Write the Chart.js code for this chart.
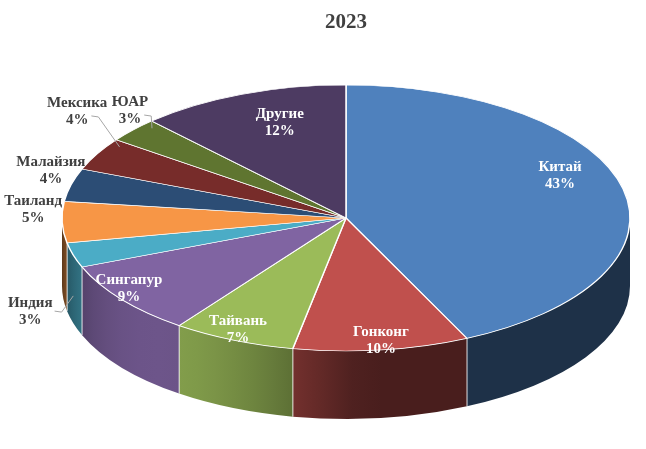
<!DOCTYPE html>
<html>
<head>
<meta charset="utf-8">
<script src="https://cdn.jsdelivr.net/npm/chart.js@4.4.1/dist/chart.umd.min.js"></script>
<style>
  html, body { margin: 0; padding: 0; background: #fff; }
  #wrap { width: 646px; height: 449px; }
</style>
</head>
<body>
<div id="wrap"><canvas id="pie" width="646" height="449"></canvas></div>
<script>
var labels = ["Китай", "Гонконг", "Тайвань", "Сингапур", "Индия", "Таиланд", "Малайзия", "Мексика", "ЮАР", "Другие"];
var shares = [43, 10, 7, 9, 3, 5, 4, 4, 3, 12];
var colors = ["#4F81BD", "#C0504D", "#9BBB59", "#8064A2", "#4BACC6", "#F79646", "#2C4D75", "#772C2A", "#5F7530", "#4D3B62"];
var titleText = "2023";

// the tilted look: centre of the ellipse, its half height, thickness of the pie
var CY = 218, RY = 133, DEPTH = 68;

// where each label sits: radius factor along the slice middle, then a nudge in px
// la = how far along the slice the leader line points
var labelSpots = [
    { f: 0.7, dx: 20, dy: -22 },
    { f: 0.7, dx: 10, dy: 30 },
    { f: 0.7, dx: -29, dy: 26 },
    { f: 0.7, dx: -60, dy: 14 },
    { f: 1, dx: -43, dy: 57, out: true, lead: "side" },
    { f: 1, dx: -29, dy: -13, out: true },
    { f: 1, dx: -20, dy: -14, out: true },
    { f: 1, dx: -20, dy: -42, out: true, lead: "top", la: 0.85 },
    { f: 1, dx: -3, dy: -19, out: true, lead: "top", la: 0.8 },
    { f: 0.7, dx: 7, dy: -9 }
];

function rgb(hex) {
    return [parseInt(hex.substr(1, 2), 16), parseInt(hex.substr(3, 2), 16), parseInt(hex.substr(5, 2), 16)];
}

// light on the rim is brightest a bit left of the front
function shade(a) {
    return 0.38 + 0.47 * Math.max(0, Math.cos(2 * (a - 2.3)));
}

var pie3d = {
    id: "pie3d",
    beforeDatasetsDraw: function(chart) {
        var ctx = chart.ctx;
        var meta = chart.getDatasetMeta(0);
        var first = meta.data[0];
        var ox = first.x, oy = first.y, R = first.outerRadius;
        var k = RY / R;
        var d = DEPTH / k;

        ctx.save();
        ctx.translate(ox, CY);
        ctx.scale(1, k);
        ctx.translate(-ox, -oy);

        meta.data.forEach(function(arc, i) {
            var s = Math.max(arc.startAngle, 0);
            var e = Math.min(arc.endAngle, Math.PI);
            if (e <= s) return;

            var x1 = ox + R * Math.cos(s), x2 = ox + R * Math.cos(e);
            var base = rgb(colors[i]);
            var grad = ctx.createLinearGradient(x1, 0, x2, 0);
            for (var j = 0; j <= 6; j++) {
                var a = s + (e - s) * j / 6;
                var t = (x1 === x2) ? j / 6 : (ox + R * Math.cos(a) - x1) / (x2 - x1);
                var m = shade(a);
                grad.addColorStop(Math.min(1, Math.max(0, t)),
                    "rgb(" + Math.round(base[0] * m) + "," + Math.round(base[1] * m) + "," + Math.round(base[2] * m) + ")");
            }

            ctx.beginPath();
            ctx.arc(ox, oy, R, s, e);
            ctx.lineTo(ox + R * Math.cos(e), oy + d + R * Math.sin(e));
            ctx.arc(ox, oy + d, R, e, s, true);
            ctx.closePath();
            ctx.fillStyle = grad;
            ctx.fill();

            ctx.strokeStyle = "rgba(255,255,255,0.85)";
            ctx.lineWidth = 1;
            [s, e].forEach(function(a) {
                if (a === 0 || a === Math.PI) return;
                ctx.beginPath();
                ctx.moveTo(ox + R * Math.cos(a), oy + R * Math.sin(a));
                ctx.lineTo(ox + R * Math.cos(a), oy + d + R * Math.sin(a));
                ctx.stroke();
            });
        });
    },
    afterDatasetsDraw: function(chart) {
        var ctx = chart.ctx;
        ctx.restore();

        var meta = chart.getDatasetMeta(0);
        var ox = meta.data[0].x;
        var R = meta.data[0].outerRadius;

        ctx.save();
        ctx.font = "bold 15px 'Liberation Serif'";
        ctx.textAlign = "center";
        ctx.textBaseline = "middle";
        meta.data.forEach(function(arc, i) {
            var spot = labelSpots[i];
            var mid = (arc.startAngle + arc.endAngle) / 2;
            var ax = ox + spot.f * R * Math.cos(mid);
            var ay = CY + spot.f * RY * Math.sin(mid);
            var lx = ax + spot.dx, ly = ay + spot.dy;
            var pct = shares[i] + "%";

            if (spot.lead) {
                var tx, ty, sx, sy;
                if (spot.lead === "side") {
                    tx = ax;
                    ty = ay + DEPTH * 0.6;
                    sx = lx + ctx.measureText(labels[i]).width / 2 + 2;
                    sy = ly - 1;
                } else {
                    var a = arc.startAngle + (arc.endAngle - arc.startAngle) * spot.la;
                    tx = ox + 0.96 * R * Math.cos(a);
                    ty = CY + 0.96 * RY * Math.sin(a);
                    sx = lx + ctx.measureText(pct).width / 2 + 3;
                    sy = ly + 4;
                }
                ctx.strokeStyle = "#A6A6A6";
                ctx.lineWidth = 1;
                ctx.beginPath();
                ctx.moveTo(sx, sy);
                ctx.lineTo(sx + 7, sy + 1);
                ctx.lineTo(tx, ty);
                ctx.stroke();
            }

            ctx.fillStyle = spot.out ? "#404040" : "#ffffff";
            ctx.fillText(labels[i], lx, ly - 8.5);
            ctx.fillText(pct, lx, ly + 8.5);
        });
        ctx.restore();
    }
};

var ctx1 = document.getElementById("pie");

var data1 = {
    labels: labels,
    datasets: [
        {
            data: shares,
            backgroundColor: colors,
            borderColor: "#ffffff",
            borderWidth: 1.5,
            radius: 284,
            clip: false
        }
    ]
};

var options1 = {
    responsive: false,
    animation: false,
    events: [],
    layout: { padding: { left: 46 } },
    plugins: {
        legend: { display: false },
        tooltip: { enabled: false },
        title: {
            display: true,
            text: titleText,
            color: "#404040",
            font: { family: "'Liberation Serif'", size: 21, weight: "bold" },
            padding: { top: 10, bottom: 0 }
        }
    }
};

var chart1 = new Chart(ctx1, {
    type: "pie",
    data: data1,
    options: options1,
    plugins: [pie3d]
});
</script>
</body>
</html>
